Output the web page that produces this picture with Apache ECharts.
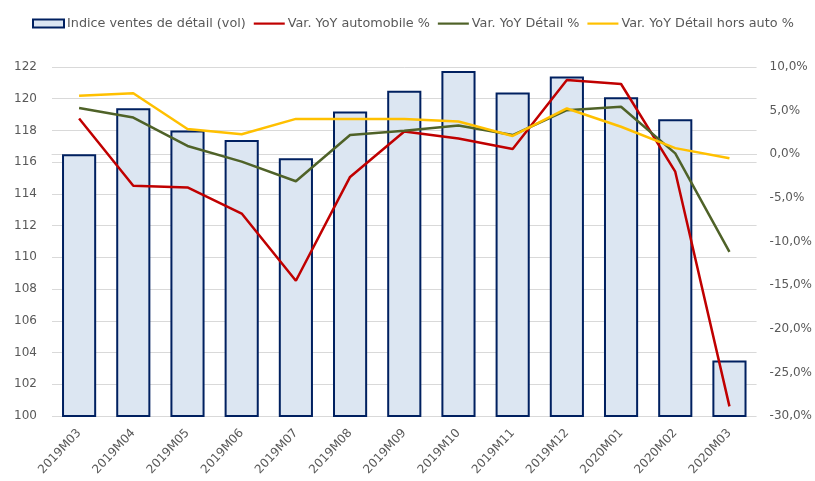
<!DOCTYPE html>
<html>
<head>
<meta charset="utf-8">
<script src="https://cdn.jsdelivr.net/npm/echarts@6/dist/echarts.min.js"></script>
<style>
  html, body { margin: 0; padding: 0; background: #fff; }
  #chart { width: 815px; height: 481px; }
</style>
</head>
<body>
<div id="chart"></div>
<script>
// mois
var months = ['2019M03', '2019M04', '2019M05', '2019M06', '2019M07', '2019M08', '2019M09',
  '2019M10', '2019M11', '2019M12', '2020M01', '2020M02', '2020M03'];

// indice ventes de détail (volume)
var indiceVentes = [116.5, 119.4, 118.0, 117.4, 116.25, 119.2, 120.5, 121.75, 120.4, 121.4, 120.1, 118.7, 103.5];

// variations annuelles en %
var varAuto = [4.1, -3.6, -3.8, -6.8, -14.5, -2.6, 2.6, 1.8, 0.6, 8.5, 8.05, -2.0, -28.9];
var varDetail = [5.3, 4.2, 0.95, -0.85, -3.1, 2.2, 2.7, 3.3, 2.2, 5.05, 5.45, 0.1, -11.2];
var varHorsAuto = [6.7, 7.0, 2.9, 2.3, 4.05, 4.05, 4.05, 3.75, 2.1, 5.25, 3.15, 0.7, -0.45];

var myChart = echarts.init(document.getElementById('chart'));
var font = '"DejaVu Sans", sans-serif';
// trait fin centré dans une boîte 31x8 pour la légende des courbes
var lineIcon = 'path://M0,0L0,0M0,3L31,3L31,5.2L0,5.2ZM31,8L31,8';

function lineSerie(name, data, color) {
  return {
    name: name, type: 'line', yAxisIndex: 1, data: data,
    symbol: 'none', lineStyle: {color: color, width: 2.5}, itemStyle: {color: color}
  };
}

var option = {
  animation: false,
  textStyle: {fontFamily: font},
  legend: {
    top: 12, left: 27, itemGap: 8, itemWidth: 31, itemHeight: 8,
    textStyle: {fontFamily: font, fontSize: 12.8, color: '#595959', padding: [0, 0, 0, -2]},
    data: [
      {name: 'Indice ventes de détail (vol)', icon: 'rect'},
      {name: 'Var. YoY automobile %', icon: lineIcon},
      {name: 'Var. YoY Détail %', icon: lineIcon},
      {name: 'Var. YoY Détail hors auto %', icon: lineIcon}
    ]
  },
  grid: {left: 52, right: 57, top: 67, bottom: 65},
  xAxis: {
    type: 'category', data: months,
    axisTick: {show: false},
    axisLine: {lineStyle: {color: '#D9D9D9'}},
    axisLabel: {rotate: 47, interval: 0, color: '#595959', fontSize: 12, fontFamily: font, margin: 15}
  },
  yAxis: [{
    type: 'value', min: 100, max: 122, interval: 2,
    axisLine: {show: false}, axisTick: {show: false},
    axisLabel: {color: '#595959', fontSize: 12, fontFamily: font, margin: 15},
    splitLine: {lineStyle: {color: '#D9D9D9'}}
  }, {
    type: 'value', min: -30, max: 10, interval: 5,
    axisLine: {show: false}, axisTick: {show: false},
    splitLine: {show: false},
    axisLabel: {
      color: '#595959', fontSize: 12, fontFamily: font, margin: 13,
      formatter: function (v) { return v.toFixed(1).replace('.', ',') + '%'; }
    }
  }],
  series: [{
    name: 'Indice ventes de détail (vol)', type: 'bar', data: indiceVentes,
    barCategoryGap: '37%',
    itemStyle: {color: '#DCE6F2', borderColor: '#002060', borderWidth: 2}
  },
  lineSerie('Var. YoY automobile %', varAuto, '#C00000'),
  lineSerie('Var. YoY Détail %', varDetail, '#4F6228'),
  lineSerie('Var. YoY Détail hors auto %', varHorsAuto, '#FFC000')
  ]
};

myChart.setOption(option);
</script>
</body>
</html>
